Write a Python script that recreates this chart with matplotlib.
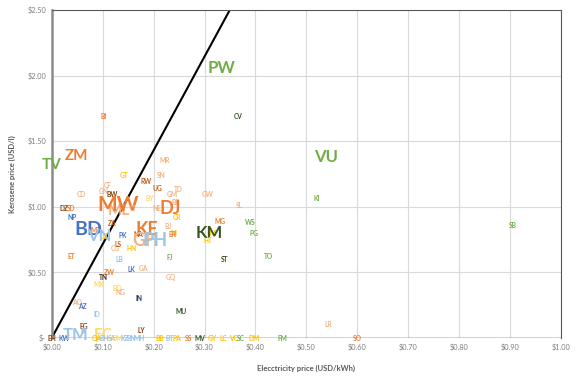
import matplotlib.pyplot as plt
from matplotlib.ticker import FuncFormatter

plt.rcParams['font.family'] = ['Lato', 'DejaVu Sans']

# country code, electricity price (USD/kWh), kerosene price (USD/l), colour group
codes = ["PW", "VU", "TV", "ZM", "BI", "CV", "MR", "GT", "SN", "RW", "UG", "TD",
         "CF", "GN", "CD", "BW", "GM", "GW", "BY", "BF", "DZ", "SD", "ML", "MW",
         "CI", "SL", "NE", "DJ", "NP", "KI", "MG", "WS", "CR", "ZA", "BJ", "KE",
         "MZ", "BD", "UZ", "VN", "PK", "NA", "NI", "ER", "GH", "PH", "JM", "KM",
         "HT", "PG", "LS", "CG", "HN", "ET", "LB", "FJ", "ST", "TO", "ZW", "LK",
         "GA", "GQ", "TN", "MX", "BO", "NG", "IN", "AO", "AZ", "ID", "MU", "EG",
         "IR", "LY", "LR", "SB",
         "EH", "KW", "TM", "EC", "QA", "BH", "SA", "OM", "KZ", "BN", "MH",
         "BB", "BT", "PA", "SS", "MV", "GY", "LC", "VC", "SC", "DM", "FM", "SO"]
elec = [0.333, 0.539, 0.000, 0.048, 0.101, 0.366, 0.221, 0.142, 0.215, 0.185, 0.207, 0.248,
        0.109, 0.103, 0.059, 0.118, 0.237, 0.307, 0.192, 0.243, 0.025, 0.038, 0.131, 0.131,
        0.160, 0.368, 0.207, 0.233, 0.040, 0.521, 0.331, 0.390, 0.245, 0.119, 0.228, 0.187,
        0.087, 0.072, 0.103, 0.093, 0.140, 0.170, 0.240, 0.238, 0.185, 0.203, 0.315, 0.309,
        0.307, 0.398, 0.131, 0.125, 0.156, 0.038, 0.132, 0.231, 0.339, 0.425, 0.113, 0.156,
        0.181, 0.233, 0.101, 0.093, 0.128, 0.136, 0.172, 0.050, 0.060, 0.089, 0.254, 0.064,
        0.062, 0.176, 0.543, 0.905,
        0.000, 0.024, 0.046, 0.101, 0.088, 0.104, 0.118, 0.130, 0.143, 0.157, 0.171,
        0.213, 0.231, 0.246, 0.268, 0.292, 0.315, 0.336, 0.356, 0.372, 0.397, 0.453, 0.600]
kero = [2.06, 1.38, 1.32, 1.39, 1.69, 1.69, 1.35, 1.24, 1.24, 1.19, 1.14, 1.13,
        1.16, 1.12, 1.09, 1.09, 1.09, 1.09, 1.06, 1.03, 0.99, 0.99, 0.97, 1.01,
        0.99, 1.01, 0.99, 0.99, 0.92, 1.06, 0.89, 0.88, 0.92, 0.87, 0.85, 0.83,
        0.82, 0.83, 0.77, 0.78, 0.78, 0.79, 0.80, 0.79, 0.74, 0.74, 0.80, 0.80,
        0.74, 0.80, 0.71, 0.68, 0.68, 0.62, 0.60, 0.61, 0.60, 0.62, 0.50, 0.52,
        0.53, 0.46, 0.46, 0.41, 0.38, 0.35, 0.30, 0.27, 0.24, 0.18, 0.20, 0.09,
        0.05, 0.06, 0.10, 0.86,
        0.00, 0.00, 0.02, 0.02, 0.00, 0.00, 0.00, 0.00, 0.00, 0.00, 0.00,
        0.00, 0.00, 0.00, 0.00, 0.00, 0.00, 0.00, 0.00, 0.00, 0.00, 0.00, 0.00]
group = ["green", "green", "green", "orange", "orange", "dgreen", "lorange", "gold", "lorange", "brown", "brown", "lorange",
         "lorange", "lorange", "lorange", "dbrown", "lorange", "lorange", "lgold", "lorange", "dbrown", "orange", "lorange", "orange",
         "lorange", "lorange", "lorange", "orange", "blue", "green", "orange", "green", "gold", "brown", "lorange", "orange",
         "orange", "blue", "gold", "lblue", "blue", "brown", "gold", "orange", "lorange", "lblue", "gold", "dgreen",
         "gold", "green", "brown", "lorange", "gold", "orange", "lblue", "green", "dgreen", "green", "orange", "blue",
         "lorange", "lorange", "dark", "lgold", "lgold", "lorange", "dblue", "lorange", "blue", "lblue", "dgreen", "dbrown",
         "lblue", "dbrown", "lorange", "green",
         "dbrown", "blue", "lblue", "lgold", "gold", "lblue", "lblue", "lgold", "lblue", "lblue", "lblue",
         "gold", "lblue", "gold", "orange", "dgreen", "gold", "gold", "gold", "green", "gold", "green", "orange"]

# break-even line: kerosene price vs electricity price
line_x = [0.0, 0.35]
line_slope = 7.15

palette = {"green": "#70AD47", "dgreen": "#375623", "orange": "#ED7D31",
           "lorange": "#F4B183", "brown": "#C55A11", "dbrown": "#843C0C",
           "gold": "#FFC000", "lgold": "#FFD966", "blue": "#4472C4",
           "lblue": "#9DC3E6", "dblue": "#203864", "dark": "#3A2A1A"}
big = {"PW": 12, "VU": 12, "TV": 11, "ZM": 11, "MW": 15, "DJ": 13, "KE": 13,
       "BD": 14, "VN": 12, "PH": 13, "GH": 13, "KM": 12, "ML": 11, "TM": 12, "EC": 11}

fig = plt.figure(figsize=(5.79, 3.77), dpi=100)
ax = fig.add_axes([0.0893, 0.1034, 0.8797, 0.8701])
ax.set_xlim(0, 1.0)
ax.set_ylim(0, 2.5)

ax.set_xticks([i / 10 for i in range(11)])
ax.set_yticks([0, 0.5, 1.0, 1.5, 2.0, 2.5])
ax.grid(True, color="#D9D9D9", linewidth=0.8)
ax.set_axisbelow(True)
ax.tick_params(length=0, labelsize=5.3, labelcolor="#7F7F7F", pad=4)
ax.xaxis.set_major_formatter(FuncFormatter(lambda v, p: f"${v:.2f}"))
ax.yaxis.set_major_formatter(FuncFormatter(lambda v, p: "$-" if v == 0 else f"${v:.2f}"))

for s in ["top", "right"]:
    ax.spines[s].set_color("#595959")
    ax.spines[s].set_linewidth(0.8)
ax.spines["left"].set_color("#8C8C8C")
ax.spines["left"].set_linewidth(1.8)
ax.spines["bottom"].set_visible(False)
ax.axhline(0, color="#262626", linewidth=1.0, zorder=1)

ax.plot(line_x, [v * line_slope for v in line_x], color="black", linewidth=1.5, zorder=2)

for c, x, y, g in zip(codes, elec, kero, group):
    fs = big.get(c, 4.8)
    ax.text(x, y, c, color=palette[g], fontsize=fs, ha="center", va="center",
            fontweight="bold", zorder=3, clip_on=False)

ax.set_xlabel("Elecctricity price (USD/kWh)", fontsize=5.5, color="#595959",
              fontweight="bold", labelpad=10)
ax.set_ylabel("Kerosene price (USD/l)", fontsize=5.5, color="#595959",
              fontweight="bold", labelpad=8)

fig.savefig("out.png", dpi=100)
